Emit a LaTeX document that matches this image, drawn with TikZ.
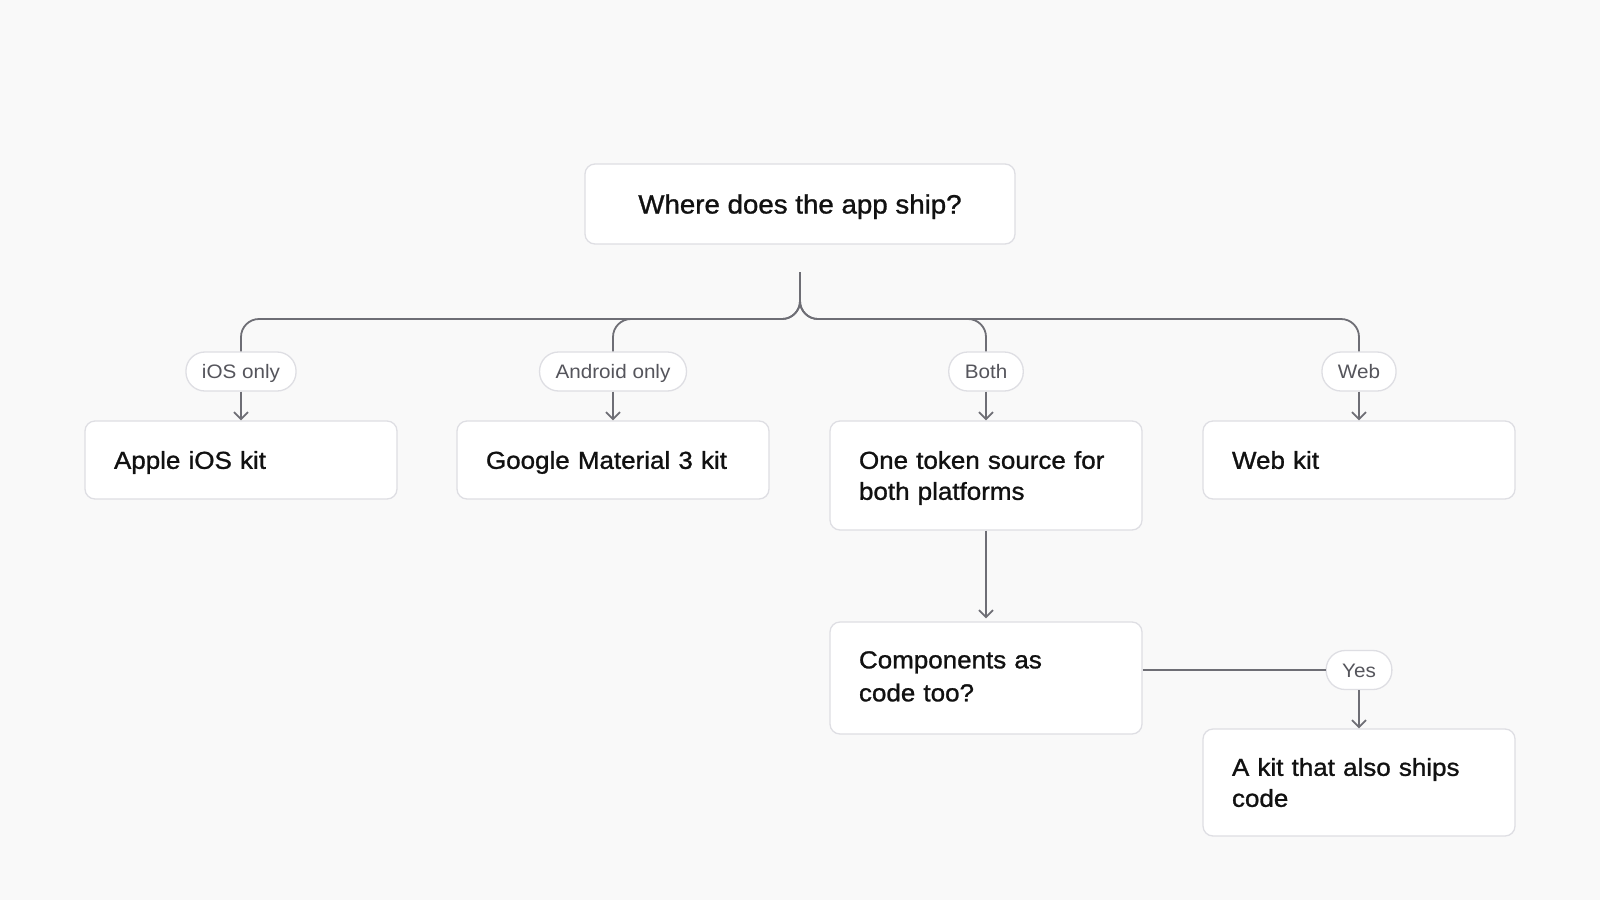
\documentclass[tikz,border=0pt]{standalone}
\usepackage{fontspec}
\setmainfont{Liberation Sans}
\newfontfamily\boxfont[FakeBold=1.1,FakeStretch=1.06]{Liberation Sans}
\newfontfamily\topfont[FakeBold=1.1,FakeStretch=1.045]{Liberation Sans}
\newfontfamily\pillfont[FakeStretch=1.06]{Liberation Sans}
\usetikzlibrary{arrows.meta}
\definecolor{bg}{HTML}{F9F9F9}
\definecolor{boxline}{HTML}{DEDEE3}
\definecolor{conn}{HTML}{6E6E75}
\definecolor{pilltext}{HTML}{55555C}
\definecolor{ink}{HTML}{111111}
\begin{document}
\begin{tikzpicture}[x=1pt,y=-1pt,
  card/.style={draw=boxline, line width=1.3pt, fill=white, rounded corners=10pt,
    text width=254pt, inner xsep=29pt, inner ysep=0pt, align=left,
    text height=17.6pt, text depth=0pt,
    font=\boxfont\fontsize{24.5}{31}\selectfont, text=ink},
  twoline/.style={text depth=31pt},
  topcard/.style={draw=boxline, line width=1.3pt, fill=white, rounded corners=10pt,
    minimum width=430pt, minimum height=80pt, inner sep=0pt, align=center,
    text height=19pt, text depth=0pt,
    font=\topfont\fontsize{26.5}{31}\selectfont, text=ink},
  pill/.style={draw=boxline, line width=1.3pt, fill=white, rounded corners=19pt,
    minimum height=39pt, inner xsep=16pt, inner ysep=0pt,
    text height=14pt, text depth=0pt,
    font=\pillfont\fontsize{19.5}{22}\selectfont, text=pilltext},
  wire/.style={draw=conn, line width=1.8pt},
  arr/.style={wire, -{Straight Barb[length=7pt,width=14pt]}},
  bus/.style={wire, rounded corners=18pt}]
\fill[bg] (0,0) rectangle (1600,900);
\useasboundingbox (0,0) rectangle (1600,900);

\node[topcard] (q) at (800,204) {Where does the app ship?};
\coordinate (stem) at (800,272);
\coordinate (busy) at (800,319);

\node[pill] (ios) at (241,371.5) {iOS only};
\node[pill] (andr) at (613,371.5) {Android only};
\node[pill] (both) at (986,371.5) {Both};
\node[pill] (web) at (1359,371.5) {Web};

\node[card, minimum height=78pt] (k1) at (241,460) {Apple iOS kit};
\node[card, minimum height=78pt] (k2) at (613,460) {Google Material 3 kit};
\node[card, twoline, minimum height=109pt] (k3) at (986,475.5) {One token source for\\both platforms};
\node[card, minimum height=78pt] (k4) at (1359,460) {Web kit};
\node[card, minimum height=112pt, text depth=37pt,
  font=\boxfont\fontsize{24.5}{33}\selectfont] (c5) at (986,678) {Components as\\code too?};
\node[pill] (yes) at (1359,670) {Yes};
\node[card, twoline, minimum height=107pt] (k6) at (1359,782.5) {A kit that also ships\\code};

\draw[bus] (stem) -- (busy) -- (busy -| ios) -- (ios.north);
\draw[bus] (stem) -- (busy) -- (busy -| andr) -- (andr.north);
\draw[bus] (stem) -- (busy) -- (busy -| both) -- (both.north);
\draw[bus] (stem) -- (busy) -- (busy -| web) -- (web.north);

\draw[arr] (ios.south) -- (k1.north);
\draw[arr] (andr.south) -- (k2.north);
\draw[arr] (both.south) -- (k3.north);
\draw[arr] (web.south) -- (k4.north);

\draw[arr] (k3.south) -- ([yshift=3pt]c5.north);
\draw[wire] (yes.west -| c5.east) -- (yes.west);
\draw[arr] (yes.south) -- (k6.north);
\end{tikzpicture}
\end{document}
